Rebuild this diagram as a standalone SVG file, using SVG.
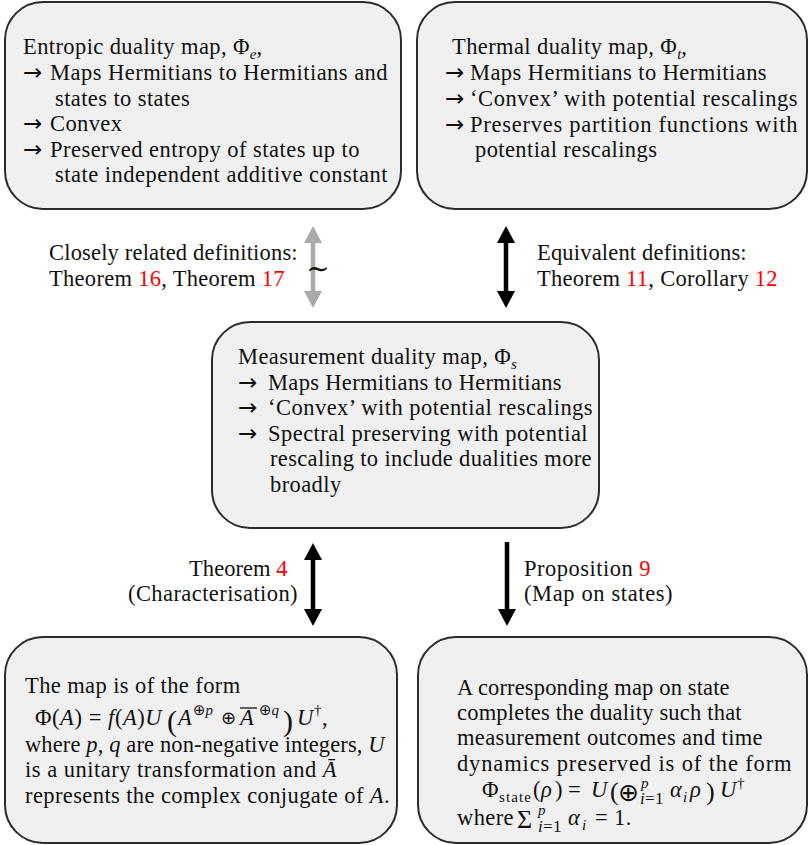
<svg xmlns="http://www.w3.org/2000/svg" width="809" height="845" viewBox="0 0 809 845">
<style>
.box{fill:#f0f0f0;stroke:#2b2b2b;stroke-width:2}
text{font-family:"Liberation Serif","DejaVu Serif",serif;font-size:22.5px;fill:#111;letter-spacing:0.4px}
.i{font-style:italic}
.s{font-size:15px;letter-spacing:0}
.r{fill:#f00}
.big{font-size:30px;letter-spacing:0}
.ar{font-family:"DejaVu Sans",sans-serif;font-size:23px;letter-spacing:0}
.op{font-family:"DejaVu Sans",sans-serif;letter-spacing:0}
.lim{font-size:17px;letter-spacing:0.3px}
.blk{stroke:#000;stroke-width:4.5;fill:none}
.gry{stroke:#aaa;stroke-width:4.5;fill:none}
</style>
<defs>
<marker id="hb" markerUnits="userSpaceOnUse" markerWidth="18" markerHeight="18" refX="5" refY="9" orient="auto-start-reverse" viewBox="0 0 18 18">
<path d="M0,0 L17,9 L0,18 z" fill="#000"/>
</marker>
<marker id="hg" markerUnits="userSpaceOnUse" markerWidth="18" markerHeight="18" refX="5" refY="9" orient="auto-start-reverse" viewBox="0 0 18 18">
<path d="M0,0 L17,9 L0,18 z" fill="#aaa"/>
</marker>
</defs>
<rect width="809" height="845" fill="#fff"/>

<g id="entropic">
<rect class="box" x="5" y="2" width="396" height="207" rx="38"/>
<text x="23" y="54">Entropic duality map, Φ<tspan class="i s" dy="5">e</tspan><tspan dy="-5">,</tspan></text>
<text x="23" y="80" class="ar">→</text><text x="50" y="80" textLength="338">Maps Hermitians to Hermitians and</text>
<text x="55" y="106">states to states</text>
<text x="23" y="131" class="ar">→</text><text x="50" y="131">Convex</text>
<text x="23" y="157" class="ar">→</text><text x="50" y="157" textLength="310">Preserved entropy of states up to</text>
<text x="55" y="182" textLength="333">state independent additive constant</text>
</g>

<g id="thermal">
<rect class="box" x="417" y="2" width="390" height="207" rx="38"/>
<text x="452" y="54">Thermal duality map, Φ<tspan class="i s" dy="5">t</tspan><tspan dy="-5">,</tspan></text>
<text x="445" y="80" class="ar">→</text><text x="470" y="80" textLength="297">Maps Hermitians to Hermitians</text>
<text x="445" y="106" class="ar">→</text><text x="470" y="106" textLength="328">‘Convex’ with potential rescalings</text>
<text x="445" y="132" class="ar">→</text><text x="470" y="132" textLength="328">Preserves partition functions with</text>
<text x="475" y="157">potential rescalings</text>
</g>

<g id="measurement">
<rect class="box" x="212" y="322" width="387" height="206" rx="38"/>
<text x="238" y="364">Measurement duality map, Φ<tspan class="i s" dy="5">s</tspan></text>
<text x="238" y="390" class="ar">→</text><text x="268" y="390" textLength="294">Maps Hermitians to Hermitians</text>
<text x="238" y="415" class="ar">→</text><text x="268" y="415" textLength="325">‘Convex’ with potential rescalings</text>
<text x="238" y="441" class="ar">→</text><text x="268" y="441" textLength="320">Spectral preserving with potential</text>
<text x="270" y="466" textLength="322">rescaling to include dualities more</text>
<text x="270" y="492">broadly</text>
</g>

<g id="characterisation">
<rect class="box" x="5" y="637" width="392" height="206" rx="38"/>
<text x="25" y="693">The map is of the form</text>
<text x="35" y="725" textLength="127">Φ(<tspan class="i">A</tspan>) = <tspan class="i">f</tspan>(<tspan class="i">A</tspan>)<tspan class="i">U</tspan></text>
<text x="167" y="731" class="big">(</text>
<text x="178" y="725" class="i">A</text>
<text x="193" y="715" class="s"><tspan class="op">⊕</tspan><tspan class="i">p</tspan></text>
<text x="221" y="724" class="op" style="font-size:18px">⊕</text>
<text x="240" y="725" class="i">A</text>
<line x1="240" y1="708" x2="257" y2="708" stroke="#111" stroke-width="1.3"/>
<text x="259" y="715" class="s"><tspan class="op">⊕</tspan><tspan class="i">q</tspan></text>
<text x="283" y="731" class="big">)</text>
<text x="297" y="725" class="i">U</text>
<text x="314" y="715" class="s">†</text>
<text x="322" y="725">,</text>
<text x="25" y="752" textLength="360">where <tspan class="i">p</tspan>, <tspan class="i">q</tspan> are non-negative integers, <tspan class="i">U</tspan></text>
<text x="25" y="777" textLength="312">is a unitary transformation and <tspan class="i">Ā</tspan></text>
<text x="25" y="803" textLength="365">represents the complex conjugate of <tspan class="i">A</tspan>.</text>
</g>

<g id="states">
<rect class="box" x="418" y="637" width="389" height="206" rx="38"/>
<text x="457" y="695" textLength="273">A corresponding map on state</text>
<text x="457" y="720" textLength="285">completes the duality such that</text>
<text x="457" y="745" textLength="306">measurement outcomes and time</text>
<text x="457" y="771" textLength="335">dynamics preserved is of the form</text>
<text x="482" y="797">Φ</text>
<text x="499" y="802" class="s" textLength="32">state</text>
<text x="533" y="797">(</text>
<text x="541" y="797" class="i">ρ</text>
<text x="555" y="797">)</text>
<text x="568" y="797">=</text>
<text x="591" y="797" class="i">U</text>
<text x="610" y="800" style="font-size:26px;letter-spacing:0">(</text>
<text x="618" y="801" class="op" style="font-size:25px">⊕</text>
<text x="641" y="788" class="s i">p</text>
<text x="640" y="804" class="lim"><tspan class="i">i</tspan>=1</text>
<text x="670" y="797" class="i">α</text>
<text x="683" y="802" class="s i">i</text>
<text x="690" y="797" class="i">ρ</text>
<text x="706" y="800" style="font-size:26px;letter-spacing:0">)</text>
<text x="720" y="797" class="i">U</text>
<text x="737" y="788" class="s">†</text>
<text x="457" y="825">where</text>
<text x="517" y="828" style="font-size:26px;letter-spacing:0">Σ</text>
<text x="538" y="815" class="s i">p</text>
<text x="538" y="832" class="lim"><tspan class="i">i</tspan>=1</text>
<text x="568" y="825" class="i">α</text>
<text x="582" y="830" class="s i">i</text>
<text x="595" y="825">= 1.</text>
</g>

<g id="connectors">
<line class="gry" x1="313" y1="238" x2="313" y2="296" marker-start="url(#hg)" marker-end="url(#hg)"/>
<text x="318" y="278" text-anchor="middle" style="font-size:28px;letter-spacing:0">∼</text>
<line class="blk" x1="506" y1="238" x2="506" y2="296" marker-start="url(#hb)" marker-end="url(#hb)"/>
<line class="blk" x1="313" y1="555" x2="313" y2="614" marker-start="url(#hb)" marker-end="url(#hb)"/>
<line class="blk" x1="507" y1="542" x2="507" y2="614" marker-end="url(#hb)"/>
<text x="49" y="260" textLength="249">Closely related definitions:</text>
<text x="49" y="286" textLength="236">Theorem <tspan class="r">16</tspan>, Theorem <tspan class="r">17</tspan></text>
<text x="537" y="260" textLength="210">Equivalent definitions:</text>
<text x="537" y="286" textLength="241">Theorem <tspan class="r">11</tspan>, Corollary <tspan class="r">12</tspan></text>
<text x="189" y="576" textLength="99">Theorem <tspan class="r">4</tspan></text>
<text x="128" y="601" textLength="170">(Characterisation)</text>
<text x="524" y="576" textLength="127">Proposition <tspan class="r">9</tspan></text>
<text x="524" y="601" textLength="149">(Map on states)</text>
</g>
</svg>
